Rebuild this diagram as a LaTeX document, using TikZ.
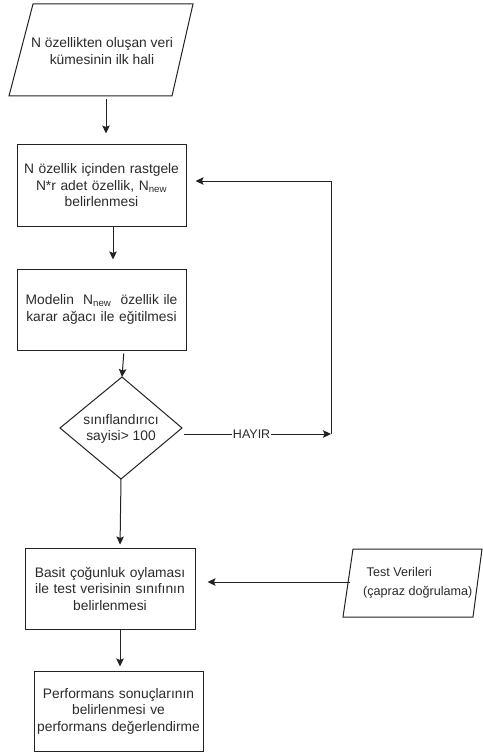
\documentclass[tikz,border=0pt]{standalone}
\usepackage{fontspec}
\setmainfont{Liberation Sans}[Ligatures=NoCommon]
\usetikzlibrary{arrows.meta}
\definecolor{ink}{HTML}{222222}
\definecolor{txtc}{HTML}{2a2a2a}
\begin{document}
\begin{tikzpicture}[x=1pt,y=-1pt,
  every node/.style={font=\fontsize{13.8}{16.5}\selectfont, text=txtc, inner sep=0pt},
  boxn/.style={draw=ink, line width=1pt, rectangle, align=center, text width=168pt},
  txtn/.style={align=center},
  shp/.style={draw=ink, line width=1pt},
  arr/.style={draw=ink, line width=1pt, -{Stealth[length=8pt,width=7.5pt,inset=1.5pt]}},
  lbl/.style={fill=white, font=\fontsize{12.5}{14}\selectfont, inner sep=1pt}]
\useasboundingbox (0,0) rectangle (482,754);

% parallelogram 1
\draw[shp] (33,4) -- (193,4) -- (172,96) -- (9,96) -- cycle;
\node[txtn, minimum height=92pt, minimum width=160pt] (p1) at (102,51) {N özellikten oluşan veri\\kümesinin ilk hali};

% boxes
\node[boxn, minimum width=169pt, minimum height=81pt] (b2) at (101.5,185.5)
  {N özellik içinden rastgele\\N*r adet özellik, N\textsubscript{new}\\belirlenmesi};
\node[boxn, minimum width=169pt, minimum height=81pt] (b3) at (101.5,309.5)
  {Modelin~ N\textsubscript{new}~ özellik ile\\karar ağacı ile eğitilmesi};

% diamond
\coordinate (dT) at (122,377);
\coordinate (dR) at (182,428);
\coordinate (dB) at (121,479);
\coordinate (dL) at (60,428);
\draw[shp] (dT) -- (dR) -- (dB) -- (dL) -- cycle;
\node[txtn] (d) at (121,429) {sınıflandırıcı\\sayisi> 100};

\node[boxn, minimum width=170pt, minimum height=81pt] (b4) at (110,588.5)
  {Basit çoğunluk oylaması\\ile test verisinin sınıfının\\belirlenmesi};
\node[boxn, minimum width=169pt, minimum height=80pt] (b5) at (118.5,711)
  {Performans sonuçlarının\\belirlenmesi ve\\performans değerlendirme};

% parallelogram 2
\draw[shp] (353,549) -- (482,549) -- (473,617) -- (343,617) -- cycle;
\node[align=left, anchor=west, font=\fontsize{12.6}{18.5}\selectfont] (p2) at (363,583)
  {\hspace{3.5pt}Test Verileri\\(çapraz doğrulama)};
\coordinate (p2L) at (350,582);

% connectors
\coordinate (hs) at (184,434);
\coordinate (hc) at (331,434);
\draw[arr, shorten <=2pt, shorten >=11pt] ([xshift=4pt]p1.south) -- ([xshift=4.5pt]b2.north);
\draw[arr, shorten >=9pt] ([xshift=11.5pt]b2.south) -- ([xshift=11.5pt]b3.north);
\draw[arr, shorten <=3pt] ([xshift=22.5pt]b3.south) -- (dT);
\draw[arr, shorten >=3pt] (dB) -- ([xshift=10pt]b4.north);
\draw[arr, shorten >=4pt] ([xshift=10pt]b4.south) -- ([xshift=1.5pt]b5.north);
\draw[arr] (hs) -- node[lbl, pos=0.46] {HAYIR} (hc);
\draw[arr, shorten >=9pt] (hc) |- ([yshift=4.5pt]b2.east);
\draw[arr, shorten >=12pt] (p2L) -- ([yshift=6.5pt]b4.east);
\end{tikzpicture}
\end{document}
